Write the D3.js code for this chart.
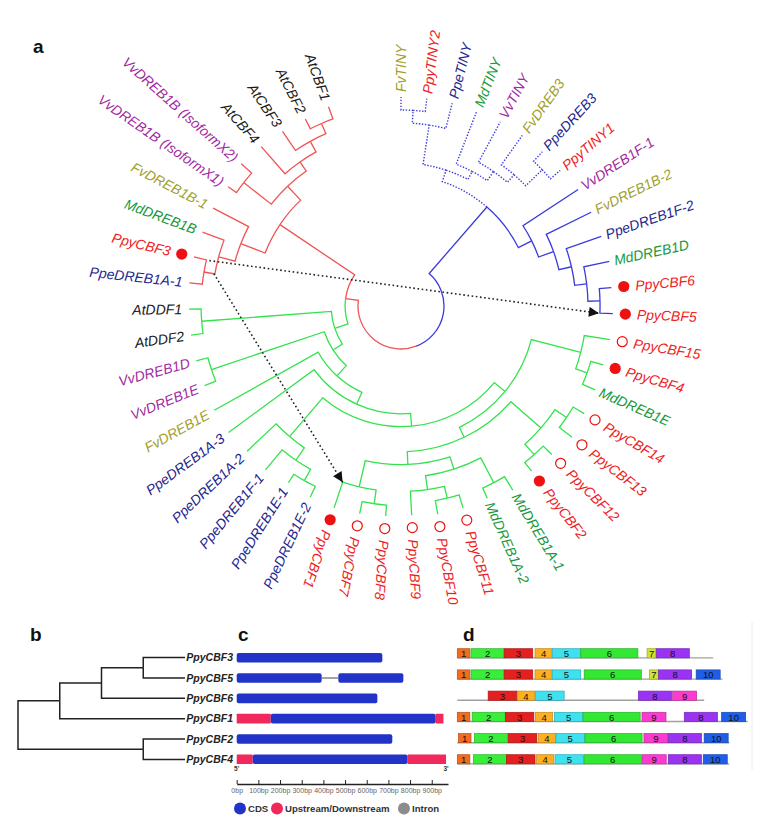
<!DOCTYPE html>
<html><head><meta charset="utf-8">
<script src="https://cdn.jsdelivr.net/npm/d3@7/dist/d3.min.js"></script>
<style>
body{margin:0;background:#fff;}
svg{display:block;font-family:Arial,"Liberation Sans",Helvetica,sans-serif;}
</style></head><body>
<svg id="fig" width="760" height="827"></svg>
<script>
// ================= DATA =================
// Panel a: phylogeny rows [node, parent, branch length]
const treeRows = [
 ["root","",0],
 ["B","root",0.518],
 ["T","B",0.071],
 ["T1","T",0.235],
 ["T11","T1",0.076],
 ["FvTINY","T11",0.076],
 ["PpyTINY2","T11",0.076],
 ["PpeTINY","T1",0.153],
 ["T2","T",0.053],
 ["MdTINY","T2",0.335],
 ["T21","T2",0.065],
 ["VvTINY","T21",0.271],
 ["T22","T21",0.059],
 ["FvDREB3","T22",0.212],
 ["T23","T22",0.135],
 ["PpeDREB3","T23",0.076],
 ["PpyTINY1","T23",0.076],
 ["S","B",0.088],
 ["VvDREB1F-1","S",0.388],
 ["S1","S",0.094],
 ["FvDREB1B-2","S1",0.294],
 ["S2","S1",0.076],
 ["PpeDREB1F-2","S2",0.218],
 ["S3","S2",0.071],
 ["MdDREB1D","S3",0.153],
 ["S4","S3",0.071],
 ["PpyCBF6","S4",0.071],
 ["PpyCBF5","S4",0.076],
 ["RG","root",0.076],
 ["G","RG",0.082],
 ["G1","G",0.065],
 ["G2","G1",0.082],
 ["G3","G2",0.076],
 ["G4","G3",0.076],
 ["G5","G4",0.082],
 ["X","G5",0.300],
 ["PpyCBF15","X",0.153],
 ["X1","X",0.071],
 ["PpyCBF4","X1",0.076],
 ["MdDREB1E","X1",0.082],
 ["Y","G5",0.065],
 ["W","Y",0.235],
 ["W1","W",0.082],
 ["PpyCBF14","W1",0.076],
 ["PpyCBF13","W1",0.094],
 ["W2","W",0.082],
 ["PpyCBF12","W2",0.071],
 ["PpyCBF2","W2",0.065],
 ["Z","Y",0.076],
 ["Z2","Z",0.076],
 ["Z21","Z2",0.165],
 ["MdDREB1A-1","Z21",0.094],
 ["MdDREB1A-2","Z21",0.065],
 ["Z22","Z2",0.082],
 ["Z23","Z22",0.071],
 ["PpyCBF11","Z23",0.082],
 ["PpyCBF10","Z23",0.082],
 ["PpyCBF9","Z22",0.141],
 ["Z1","Z",0.159],
 ["Z11","Z1",0.082],
 ["PpyCBF8","Z11",0.065],
 ["PpyCBF7","Z11",0.071],
 ["PpyCBF1","Z1",0.159],
 ["P","G4",0.300],
 ["P1","P",0.088],
 ["P2","P1",0.076],
 ["PpeDREB1E-2","P2",0.071],
 ["PpeDREB1E-1","P2",0.059],
 ["PpeDREB1F-1","P1",0.153],
 ["PpeDREB1A-2","P",0.235],
 ["PpeDREB1A-3","G3",0.624],
 ["FvDREB1E","G2",0.700],
 ["VV","G1",0.700],
 ["VvDREB1E","VV",0.071],
 ["VvDREB1D","VV",0.071],
 ["AT","G",0.765],
 ["AtDDF2","AT",0.071],
 ["AtDDF1","AT",0.071],
 ["R","RG",0.529],
 ["Ra","R",0.153],
 ["Ra1","Ra",0.100],
 ["Ra2","Ra1",0.065],
 ["PpeDREB1A-1","Ra2",0.076],
 ["PpyCBF3","Ra2",0.076],
 ["MdDREB1B","Ra1",0.135],
 ["FvDREB1B-1","Ra",0.235],
 ["Rb","R",0.112],
 ["V","Rb",0.206],
 ["VvDREB1B (IsoformX1)","V",0.059],
 ["VvDREB1B (IsoformX2)","V",0.082],
 ["A","Rb",0.065],
 ["AtCBF4","A",0.212],
 ["A1","A",0.071],
 ["AtCBF3","A1",0.135],
 ["A2","A1",0.065],
 ["AtCBF2","A2",0.065],
 ["AtCBF1","A2",0.076]
];
const filledMarkers = ["PpyCBF3","PpyCBF6","PpyCBF5","PpyCBF4","PpyCBF2","PpyCBF1"];
const openMarkers = ["PpyCBF15","PpyCBF14","PpyCBF13","PpyCBF12","PpyCBF11","PpyCBF10","PpyCBF9","PpyCBF8","PpyCBF7"];
const speciesPrefixes = ["Ppe","Ppy","At","Vv","Fv","Md"];
const speciesColors = ["#25258f","#ee1c24","#1a1a1a","#9f2a9f","#a0a02c","#17993a"];
const cladeKeys = ["T","B","G","R"];
const cladeColors = ["#3b3bdc","#3b3bdc","#34e24e","#f05454"];
const arrowPairs = [["PpyCBF3","PpyCBF5"],["PpyCBF3","PpyCBF1"]];

// Panel b: gene tree rows [node, parent]
const geneOrder = ["PpyCBF3","PpyCBF5","PpyCBF6","PpyCBF1","PpyCBF2","PpyCBF4"];
const geneTreeRows = [
 ["r",""],["n1","r"],["n2","n1"],["n3","n2"],
 ["PpyCBF3","n3"],["PpyCBF5","n3"],["PpyCBF6","n2"],["PpyCBF1","n1"],
 ["n4","r"],["PpyCBF2","n4"],["PpyCBF4","n4"]
];

// Panel c: gene structures [type, start bp, end bp]
const structTypes = ["CDS","Upstream/Downstream","Intron"];
const structColors = ["#2233c8","#f0285c","#8c8c8c"];
const segCBF3 = [["CDS",0,672]];
const segCBF5 = [["CDS",0,392],["Intron",392,469],["CDS",469,769]];
const segCBF6 = [["CDS",0,649]];
const segCBF1 = [["Upstream/Downstream",0,157],["CDS",157,918],["Upstream/Downstream",918,954]];
const segCBF2 = [["CDS",0,718]];
const segCBF4 = [["Upstream/Downstream",0,74],["CDS",74,788],["Upstream/Downstream",788,966]];
const bpTicks = [0,100,200,300,400,500,600,700,800,900];

// Panel d: motifs [motif id, start aa]
const motifIds = [1,2,3,4,5,6,7,8,9,10];
const motifWidths = [11,29,25,15,25,50,8,29,21,21];
const motifColors = ["#f26b21","#38ee38","#e42020","#ffb020","#3ee2ef","#33e833","#cde52e","#9a33f2","#fb3ccf","#1f5ee8"];
const proteinLengths = [224,232,216,254,238,238];
const motCBF3 = [[1,0],[2,12],[3,41],[4,68],[5,83],[6,108],[7,166],[8,174]];
const motCBF5 = [[1,0],[2,12],[3,41],[4,68],[5,83],[6,111],[7,168],[8,176],[10,209]];
const motCBF6 = [[3,27],[4,52.5],[5,68.5],[8,158.4],[9,188.4]];
const motCBF1 = [[1,0],[2,13],[3,42],[4,68.5],[5,85],[6,110],[9,161.6],[8,198.6],[10,231.3]];
const motCBF2 = [[1,1],[2,15],[3,44.6],[4,70.8],[5,86.3],[6,111.7],[9,163.3],[8,184.6],[10,216]];
const motCBF4 = [[1,0],[2,14],[3,43],[4,69.4],[5,85.5],[6,111],[9,161.8],[8,184.6],[10,215.2]];

// ================= DRAW =================
const svg = d3.select("#fig");
const toRad = d => d*Math.PI/180;

// ---- Panel a ----
const cx = 401, cy = 306;
const root = d3.stratify().id(d=>d[0]).parentId(d=>d[1]||null)(treeRows);
d3.cluster().separation(()=>1)(root);
root.eachBefore(n => { n.len = n.parent ? n.parent.len + n.data[2] : 0; });
const leaves = root.leaves();
const angle = d3.scaleLinear().domain(d3.extent(leaves, d=>d.x)).range([0, 340]);
const radius = d3.scaleLinear().domain([0, 1]).range([43, 213]);
root.each(n => { n.t = angle(n.x); n.r = radius(n.len); });
const pt = (r, t) => [cx + r*Math.sin(toRad(t)), cy - r*Math.cos(toRad(t))];
function cladeOf(n){
  const ids = n.ancestors().map(a=>a.id);
  for (let i=0;i<cladeKeys.length;i++) if (ids.includes(cladeKeys[i])) return i;
  return 3;
}
const gA = svg.append("g");
root.descendants().filter(n=>n.parent).forEach(n=>{
  const p = n.parent;
  const path = d3.path();
  const s = pt(p.r, p.t);
  path.moveTo(s[0], s[1]);
  if (Math.abs(n.t - p.t) > 1e-6) path.arc(cx, cy, p.r, toRad(p.t-90), toRad(n.t-90), n.t < p.t);
  const e = pt(n.r, n.t);
  path.lineTo(e[0], e[1]);
  const c = cladeOf(n);
  gA.append("path").attr("d", path.toString()).attr("fill","none")
    .attr("stroke", cladeColors[c]).attr("stroke-width", c===0 ? 1.4 : 1.3)
    .attr("stroke-dasharray", c===0 ? "1.4 1.6" : null);
});
// leaf labels + markers
leaves.forEach(n=>{
  const name = n.id;
  const col = speciesColors[speciesPrefixes.findIndex(p=>name.startsWith(p))];
  const filled = filledMarkers.includes(name), open = openMarkers.includes(name);
  const marked = filled || open;
  const flip = n.t > 202;
  if (marked){
    const m = pt(n.r + 12.5, n.t);
    gA.append("circle").attr("cx", m[0]).attr("cy", m[1])
      .attr("r", filled ? 5.6 : 5)
      .attr("fill", filled ? "#ee1111" : "#fff")
      .attr("stroke", "#ee1111").attr("stroke-width", filled ? 0 : 1.2);
  }
  const off = marked ? 24 : (flip ? 7 : 5);
  gA.append("text")
    .attr("transform", `translate(${cx},${cy}) rotate(${n.t-90}) translate(${n.r+off},0)` + (flip ? " rotate(180)" : ""))
    .attr("text-anchor", flip ? "end" : "start")
    .attr("dy", "0.35em")
    .attr("font-size", 14).attr("font-style","italic")
    .attr("fill", col).text(name);
});
// dotted arrows
svg.append("defs").append("marker").attr("id","ah").attr("viewBox","0 0 10 10")
  .attr("refX",10).attr("refY",5).attr("markerWidth",13).attr("markerHeight",10)
  .attr("markerUnits","userSpaceOnUse").attr("orient","auto")
  .append("path").attr("d","M0,0L10,5L0,10Z").attr("fill","#111");
const byId = id => root.find(n=>n.id===id);
arrowPairs.forEach((pair,i)=>{
  const a = byId(pair[0]), b = byId(pair[1]);
  const s = i===0 ? pt(a.parent.r - 3, a.t) : pt(a.parent.r - 10, a.parent.t);
  const e = i===0 ? pt(b.parent.r - 1, b.t) : pt(b.parent.r, b.t);
  gA.append("line").attr("x1",s[0]).attr("y1",s[1]).attr("x2",e[0]).attr("y2",e[1])
    .attr("stroke","#222").attr("stroke-width",1.6).attr("stroke-dasharray","1.6 2.6")
    .attr("marker-end","url(#ah)");
});

// panel letters
[["a",33,53],["b",30,641],["c",238,641],["d",463,641]].forEach(l=>{
  svg.append("text").attr("x",l[1]).attr("y",l[2]).attr("font-size",19)
    .attr("font-weight","bold").attr("fill","#111").text(l[0]);
});

// ---- Panel b ----
const gRoot = d3.stratify().id(d=>d[0]).parentId(d=>d[1]||null)(geneTreeRows);
d3.cluster().separation(()=>1)(gRoot);
const gLeaves = gRoot.leaves();
const by = d3.scaleLinear().domain(d3.extent(gLeaves,d=>d.x)).range([657.5, 759.5]);
const bx = d3.scaleLinear().domain([0,1]).range([18, 185]);
const gB = svg.append("g");
gRoot.descendants().filter(n=>n.parent).forEach(n=>{
  const p = n.parent;
  gB.append("path").attr("d", `M${bx(p.y)},${by(p.x)}V${by(n.x)}H${bx(n.y)}`)
    .attr("fill","none").attr("stroke","#222").attr("stroke-width",1.5);
});
gLeaves.forEach(n=>{
  gB.append("text").attr("x",233).attr("y",by(n.x)).attr("dy","0.35em")
    .attr("text-anchor","end").attr("font-size",10.5).attr("font-weight","bold")
    .attr("font-style","italic").attr("fill","#222").text(n.id);
});

// ---- Panel c ----
const segs = [segCBF3, segCBF5, segCBF6, segCBF1, segCBF2, segCBF4];
const yC = d3.scalePoint().domain(geneOrder).range([657.7, 759.3]);
const xC = d3.scaleLinear().domain([0, 975]).range([236.7, 448]);
const gC = svg.append("g");
geneOrder.forEach((g,i)=>{
  const y = yC(g);
  const order = ["Intron","Upstream/Downstream","CDS"];
  order.forEach(tp=>{
    segs[i].filter(s=>s[0]===tp).forEach(s=>{
      const col = structColors[structTypes.indexOf(tp)];
      if (tp==="Intron"){
        gC.append("line").attr("x1",xC(s[1])).attr("x2",xC(s[2])).attr("y1",y).attr("y2",y)
          .attr("stroke",col).attr("stroke-width",1.6);
      } else {
        gC.append("rect").attr("x",xC(s[1])).attr("y",y-4.8).attr("width",xC(s[2])-xC(s[1]))
          .attr("height",9.6).attr("rx", tp==="CDS"?2:0.5).attr("fill",col);
      }
    });
  });
});
gC.append("text").attr("x",xC(0)).attr("y",771).attr("font-size",6.5).attr("font-weight","bold")
  .attr("fill","#333").attr("text-anchor","middle").text("5'");
gC.append("text").attr("x",xC(966)).attr("y",771).attr("font-size",6.5).attr("font-weight","bold")
  .attr("fill","#333").attr("text-anchor","middle").text("3'");
const axC = gC.append("g").attr("transform","translate(0,784)")
  .call(d3.axisBottom(xC).tickValues(bpTicks).tickSize(-4).tickSizeOuter(0).tickPadding(4).tickFormat(d=>d+"bp"));
axC.select(".domain").attr("stroke","#222").attr("stroke-width",1.3);
axC.selectAll(".tick line").attr("stroke","#222").attr("stroke-width",1);
axC.selectAll(".tick text").attr("font-size",7).attr("fill","#666").attr("font-family","Arial,'Liberation Sans',sans-serif");
// legend
const legX = [240, 277, 404];
structTypes.forEach((t,i)=>{
  gC.append("circle").attr("cx",legX[i]).attr("cy",808.5).attr("r",6).attr("fill",structColors[i]);
  gC.append("text").attr("x",legX[i]+8).attr("y",808.5).attr("dy","0.36em")
    .attr("font-size",9.6).attr("font-weight","bold").attr("fill","#333").text(t);
});

// ---- Panel d ----
const mots = [motCBF3, motCBF5, motCBF6, motCBF1, motCBF2, motCBF4];
const yD = d3.scalePoint().domain(geneOrder).range([653.3, 759.3]);
const xD = d3.scaleLinear().domain([0, 254]).range([457.3, 747.6]);
const gD = svg.append("g");
geneOrder.forEach((g,i)=>{
  const y = yD(g);
  gD.append("line").attr("x1",xD(0)).attr("x2",xD(proteinLengths[i])).attr("y1",y+4.6).attr("y2",y+4.6)
    .attr("stroke","#a0a0a0").attr("stroke-width",1.4);
  mots[i].forEach(m=>{
    const k = motifIds.indexOf(m[0]);
    const col = motifColors[k];
    gD.append("rect").attr("x",xD(m[1])).attr("y",y-4.6)
      .attr("width",xD(m[1]+motifWidths[k])-xD(m[1])).attr("height",9.2)
      .attr("fill",col).attr("stroke",d3.color(col).darker(0.8)).attr("stroke-width",0.7);
    gD.append("text").attr("x",(xD(m[1])+xD(m[1]+motifWidths[k]))/2).attr("y",y+0.5)
      .attr("dy","0.36em").attr("text-anchor","middle").attr("font-size",9.5)
      .attr("fill","#111").text(m[0]);
  });
});
svg.append("line").attr("x1",752).attr("x2",752).attr("y1",622).attr("y2",770)
  .attr("stroke","#ececec").attr("stroke-width",1);
</script>
</body></html>
